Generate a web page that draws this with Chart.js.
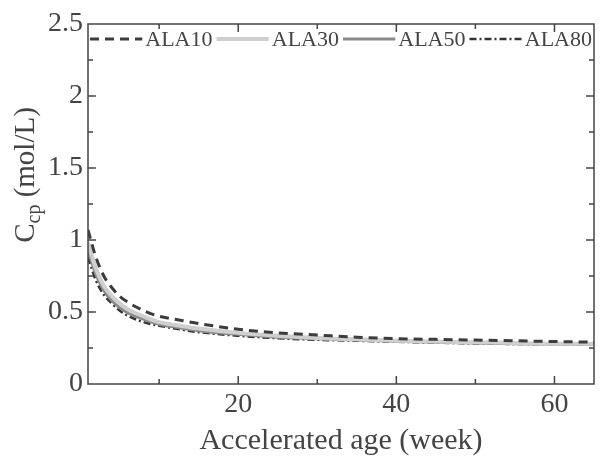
<!DOCTYPE html>
<html>
<head>
<meta charset="utf-8">
<script src="https://cdn.jsdelivr.net/npm/chart.js@4/dist/chart.umd.min.js"></script>
<style>
  html, body { margin: 0; padding: 0; background: #fff; }
  #wrap { width: 602px; height: 459px; }
</style>
</head>
<body>
<div id="wrap"><canvas id="chart" width="602" height="459"></canvas></div>
<script>
// accelerated age (week)
const weeks = [1, 2, 3, 4, 5, 6, 8, 10, 12, 15, 20, 25, 30, 35, 40, 45, 50, 55, 60, 65];
// Ccp (mol/L)
const ala10 = [1.07, 0.88, 0.75, 0.67, 0.61, 0.57, 0.51, 0.47, 0.45, 0.42, 0.38, 0.355, 0.34, 0.325, 0.315, 0.31, 0.305, 0.30, 0.295, 0.29];
const ala30 = [0.98, 0.80, 0.68, 0.61, 0.56, 0.52, 0.47, 0.43, 0.41, 0.385, 0.355, 0.335, 0.32, 0.31, 0.30, 0.295, 0.29, 0.285, 0.28, 0.28];
const ala50 = [0.93, 0.76, 0.65, 0.58, 0.53, 0.495, 0.45, 0.415, 0.395, 0.37, 0.345, 0.325, 0.315, 0.305, 0.297, 0.29, 0.285, 0.28, 0.277, 0.275];
const ala80 = [0.88, 0.72, 0.62, 0.56, 0.51, 0.475, 0.43, 0.405, 0.385, 0.36, 0.335, 0.318, 0.307, 0.30, 0.293, 0.287, 0.282, 0.278, 0.275, 0.272];
const seriesNames = ['ALA10', 'ALA30', 'ALA50', 'ALA80'];
const xTicks = [20, 40, 60];

const SERIF = '"Liberation Serif", "DejaVu Serif", serif';
const AXIS = '#444444';

function pts(vals) {
  return weeks.map((w, i) => ({ x: w, y: vals[i] }));
}

// frame with inward ticks on all four sides, titles, legend inside the box
const decor = {
  id: 'decor',
  afterDatasetsDraw(chart) {
    const ctx = chart.ctx;
    const a = chart.chartArea;
    const xs = chart.scales.x, ys = chart.scales.y;
    ctx.save();
    ctx.strokeStyle = AXIS;
    ctx.lineWidth = 1.5;
    ctx.setLineDash([]);
    ctx.strokeRect(a.left, a.top, a.right - a.left, a.bottom - a.top);
    ctx.beginPath();
    for (let v = 10; v <= 60; v += 10) {
      const px = xs.getPixelForValue(v);
      const len = v % 20 === 0 ? 8 : 5;
      ctx.moveTo(px, a.bottom); ctx.lineTo(px, a.bottom - len);
      ctx.moveTo(px, a.top); ctx.lineTo(px, a.top + len);
    }
    for (let k = 1; k < 10; k++) {
      const v = k * 0.25;
      const py = ys.getPixelForValue(v);
      const len = k % 2 === 0 ? 8 : 5;
      ctx.moveTo(a.left, py); ctx.lineTo(a.left + len, py);
      ctx.moveTo(a.right, py); ctx.lineTo(a.right - len, py);
    }
    ctx.stroke();

    // legend
    ctx.font = '22px ' + SERIF;
    ctx.textBaseline = 'middle';
    const itemW = (a.right - a.left) / chart.data.datasets.length;
    const ly = a.top + 15;
    chart.data.datasets.forEach((ds, i) => {
      const x0 = a.left + i * itemW;
      const tw = ctx.measureText(ds.label).width;
      const lineEnd = x0 + itemW - tw - 5;
      ctx.strokeStyle = ds.borderColor;
      ctx.lineWidth = ds.borderWidth;
      ctx.setLineDash(ds.borderDash || []);
      ctx.beginPath();
      ctx.moveTo(x0 + 2, ly); ctx.lineTo(lineEnd, ly);
      ctx.stroke();
      ctx.setLineDash([]);
      ctx.fillStyle = AXIS;
      ctx.textAlign = 'left';
      ctx.fillText(ds.label, lineEnd + 3, ly + 1);
    });

    // x title
    ctx.fillStyle = AXIS;
    ctx.textAlign = 'center';
    ctx.textBaseline = 'middle';
    ctx.font = '30px ' + SERIF;
    ctx.fillText('Accelerated age (week)', (a.left + a.right) / 2, 441);

    // y title with subscript
    ctx.translate(24, 175);
    ctx.rotate(-Math.PI / 2);
    ctx.textAlign = 'left';
    ctx.textBaseline = 'alphabetic';
    const big = '29px ' + SERIF, small = '20px ' + SERIF;
    ctx.font = big;
    const wC = ctx.measureText('C').width;
    const wRest = ctx.measureText(' (mol/L)').width;
    ctx.font = small;
    const wSub = ctx.measureText('cp').width;
    let x = -(wC + wSub + wRest) / 2;
    const base = 10;
    ctx.font = big;
    ctx.fillText('C', x, base); x += wC;
    ctx.font = small;
    ctx.fillText('cp', x, base + 6); x += wSub;
    ctx.font = big;
    ctx.fillText(' (mol/L)', x, base);
    ctx.restore();
  }
};

new Chart(document.getElementById('chart'), {
  type: 'line',
  data: {
    datasets: [
      { label: seriesNames[0], data: pts(ala10), borderColor: '#3c3c3c', borderWidth: 3, borderDash: [9, 6] },
      { label: seriesNames[1], data: pts(ala30), borderColor: '#cfcfcf', borderWidth: 4 },
      { label: seriesNames[2], data: pts(ala50), borderColor: '#8a8a8a', borderWidth: 3 },
      { label: seriesNames[3], data: pts(ala80), borderColor: '#333333', borderWidth: 2.5, borderDash: [7, 3, 2, 3] }
    ]
  },
  options: {
    responsive: false,
    animation: false,
    layout: { padding: { left: 0, right: 8, top: 24, bottom: 0 } },
    elements: { point: { radius: 0 }, line: { cubicInterpolationMode: 'monotone', fill: false } },
    plugins: { legend: { display: false }, tooltip: { enabled: false } },
    scales: {
      x: {
        type: 'linear', min: 1, max: 65,
        afterBuildTicks: s => { s.ticks = xTicks.map(v => ({ value: v })); },
        afterFit: s => { s.height = 75; },
        grid: { display: false, drawTicks: false },
        border: { display: false },
        ticks: { color: AXIS, font: { family: SERIF, size: 28 }, padding: 4, maxRotation: 0 }
      },
      y: {
        type: 'linear', min: 0, max: 2.5,
        afterFit: s => { s.width = 88; },
        grid: { display: false, drawTicks: false },
        border: { display: false },
        ticks: { stepSize: 0.5, color: AXIS, font: { family: SERIF, size: 28 }, padding: 5,
                 callback: v => String(v) }
      }
    }
  },
  plugins: [decor]
});
</script>
</body>
</html>
